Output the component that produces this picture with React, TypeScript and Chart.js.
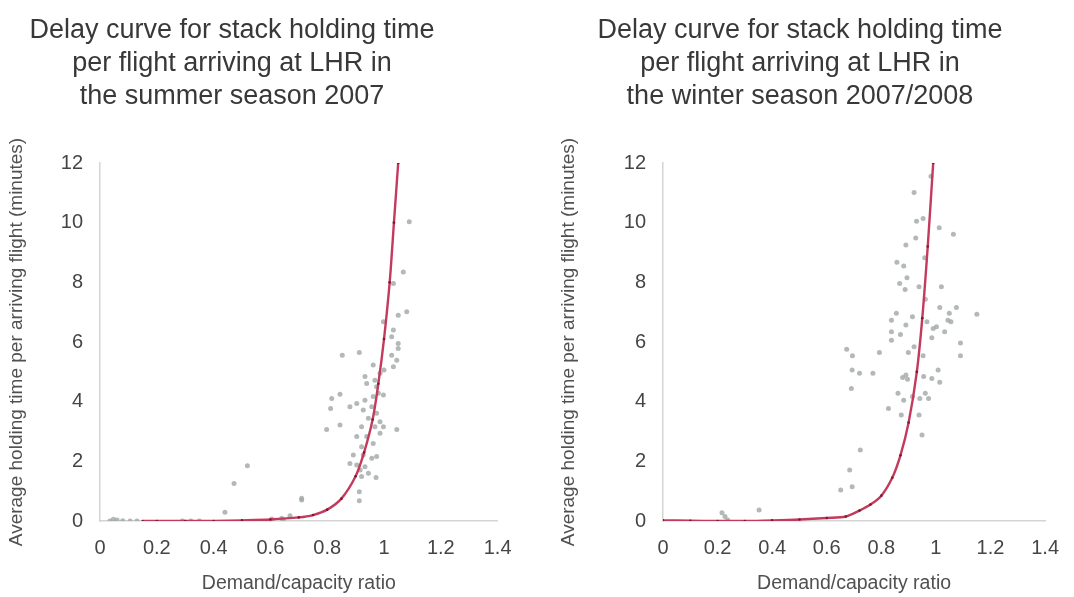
import React, { useEffect, useRef } from "react";
import { Chart, registerables } from "chart.js";

Chart.register(...registerables);

// ---------- data ----------
const summerTitle = [
  "Delay curve for stack holding time",
  "per flight arriving at LHR in",
  "the summer season 2007",
];
const winterTitle = [
  "Delay curve for stack holding time",
  "per flight arriving at LHR in",
  "the winter season 2007/2008",
];
const xAxisLabel = "Demand/capacity ratio";
const yAxisLabel = "Average holding time per arriving flight (minutes)";

const summerCurveX = [0.15, 0.2, 0.3, 0.4, 0.5, 0.6, 0.7, 0.75, 0.8, 0.85, 0.9, 0.93, 0.96, 0.98, 1.0, 1.02, 1.035, 1.05];
const summerCurveY = [0, 0, 0, 0, 0.02, 0.05, 0.12, 0.2, 0.38, 0.75, 1.5, 2.3, 3.4, 4.6, 6.1, 8.0, 10.0, 12.0];

const summerScatterX = [
  1.089, 1.068, 1.033, 1.08, 1.05, 0.998, 1.033, 1.027, 1.05, 1.05, 1.027, 1.045, 1.033, 0.962, 0.853, 0.913,
  0.986, 1.0, 0.933, 0.939, 0.968, 0.974, 0.98, 0.962, 0.998, 0.933, 0.904, 0.816, 0.845, 0.812, 0.88, 0.927,
  0.957, 0.974, 0.945, 0.986, 0.845, 0.798, 0.921, 0.968, 0.998, 1.045, 0.904, 0.939, 0.986, 0.962, 0.921, 0.892,
  0.927, 0.957, 0.974, 0.88, 0.904, 0.933, 0.916, 0.945, 0.921, 0.972, 0.913, 0.913, 0.519, 0.472, 0.71, 0.71,
  0.44, 0.605, 0.64, 0.669, 0.645, 0.047, 0.035, 0.06, 0.08, 0.106, 0.13, 0.29, 0.32, 0.35,
];
const summerScatterY = [
  10.03, 8.35, 7.96, 7.01, 6.9, 6.68, 6.4, 6.18, 5.95, 5.78, 5.56, 5.39, 5.17, 5.23, 5.56, 5.65,
  4.95, 5.06, 4.84, 4.61, 4.72, 4.5, 4.28, 4.17, 4.22, 4.05, 3.94, 4.11, 4.25, 3.77, 3.83, 3.72,
  3.83, 3.61, 3.44, 3.33, 3.22, 3.07, 3.16, 3.16, 3.16, 3.07, 2.83, 2.83, 2.94, 2.6, 2.49, 2.21,
  2.21, 2.1, 2.16, 1.93, 1.88, 1.82, 1.71, 1.6, 1.49, 1.46, 0.98, 0.68, 1.85, 1.26, 0.76, 0.7,
  0.29, 0.07, 0.09, 0.18, 0.03, 0.06, 0.0, 0.03, 0.01, 0.0, 0.0, 0.0, 0.0, 0.0,
];

const winterCurveX = [0, 0.1, 0.2, 0.3, 0.4, 0.5, 0.6, 0.67, 0.72, 0.76, 0.8, 0.84, 0.87, 0.9, 0.93, 0.95, 0.97, 0.99];
const winterCurveY = [0.02, 0.01, 0.0, 0.0, 0.02, 0.05, 0.1, 0.15, 0.35, 0.55, 0.85, 1.45, 2.2, 3.3, 5.0, 6.8, 9.2, 12.0];

const winterScatterX = [
  0.982, 0.92, 0.929, 0.953, 0.926, 1.012, 1.064, 0.89, 0.959, 0.857, 0.882, 0.894, 0.938, 0.867, 0.887, 1.02,
  0.961, 1.014, 1.075, 1.049, 1.15, 0.855, 0.914, 0.837, 0.89, 1.044, 1.055, 0.967, 0.99, 1.002, 0.837, 0.87,
  1.032, 0.985, 0.837, 1.09, 0.92, 0.673, 0.694, 0.793, 0.899, 0.953, 1.09, 0.693, 0.72, 0.769, 0.89, 0.878,
  0.896, 0.955, 0.985, 1.008, 1.014, 0.69, 0.861, 0.882, 0.914, 0.941, 0.961, 0.973, 0.826, 0.873, 0.938, 0.949,
  0.723, 0.684, 0.693, 0.651, 0.216, 0.227, 0.352, 0.237,
];
const winterScatterY = [
  11.56, 11.01, 10.05, 10.14, 9.49, 9.83, 9.61, 9.25, 8.82, 8.67, 8.55, 8.15, 7.85, 7.96, 7.76, 7.85,
  7.43, 7.16, 7.16, 6.96, 6.93, 6.96, 6.85, 6.73, 6.57, 6.73, 6.68, 6.68, 6.45, 6.51, 6.34, 6.25,
  6.34, 6.14, 6.06, 5.97, 5.84, 5.76, 5.54, 5.65, 5.65, 5.54, 5.54, 5.06, 4.95, 4.95, 4.89, 4.81,
  4.75, 4.84, 4.78, 5.06, 4.65, 4.44, 4.28, 4.05, 4.17, 4.11, 4.28, 4.11, 3.77, 3.55, 3.55, 2.88,
  2.38, 1.71, 1.15, 1.04, 0.28, 0.15, 0.37, 0.03,
];

const xTicksMin = 0;
const xTicksMax = 1.4;
const xTickStep = 0.2;
const yTicksMin = 0;
const yTicksMax = 12;
const yTickStep = 2;

// ---------- helpers ----------
const FONT = '"Liberation Sans", Arial, Helvetica, sans-serif';

const toPoints = (xs: number[], ys: number[]) => xs.map((x, i) => ({ x, y: ys[i] }));

const centeredTitle = {
  id: "centeredTitle",
  afterDraw(chart: any, _args: any, opts: any) {
    const ctx = chart.ctx;
    ctx.save();
    ctx.font = `${opts.size}px ${FONT}`;
    ctx.fillStyle = opts.color;
    ctx.textAlign = "center";
    ctx.textBaseline = "middle";
    (opts.lines as string[]).forEach((line, i) => {
      ctx.fillText(line, opts.x, opts.y0 + i * opts.lh);
    });
    ctx.restore();
  },
};

function makeConfig(
  titleLines: string[],
  curve: { x: number; y: number }[],
  scatter: { x: number; y: number }[],
  g: { yWidth: number; right: number; titleX: number; yTitlePad: number }
): any {
  return {
    type: "scatter",
    data: {
      datasets: [
        {
          label: "curve",
          data: curve,
          showLine: true,
          borderColor: "#c43a5c",
          borderWidth: 2.4,
          pointRadius: 1.3,
          pointBackgroundColor: "#7a1a2e",
          pointBorderWidth: 0,
          tension: 0.3,
          order: 1,
        },
        {
          label: "observed",
          data: scatter,
          showLine: false,
          pointRadius: 2.5,
          pointBackgroundColor: "rgba(160,166,166,0.8)",
          pointBorderWidth: 0,
          order: 2,
        },
      ],
    },
    options: {
      responsive: false,
      animation: false,
      devicePixelRatio: 1,
      layout: { padding: { top: 163, right: g.right, bottom: 0, left: 0 } },
      plugins: {
        legend: { display: false },
        tooltip: { enabled: false },
        title: { display: false },
        centeredTitle: {
          lines: titleLines,
          x: g.titleX,
          y0: 31,
          lh: 33,
          size: 27,
          color: "#383838",
        },
      },
      scales: {
        x: {
          type: "linear",
          min: xTicksMin,
          max: xTicksMax,
          afterFit: (s: any) => {
            s.height = 76;
          },
          grid: { display: false, drawTicks: false },
          border: { display: true, color: "#d4d4d4", width: 1.5 },
          ticks: {
            stepSize: xTickStep,
            padding: 15,
            color: "#454545",
            font: { family: FONT, size: 20 },
            callback: (v: number) => String(Math.round(v * 10) / 10),
          },
          title: {
            display: true,
            text: xAxisLabel,
            color: "#505050",
            font: { family: FONT, size: 19.5 },
            padding: { top: 0, bottom: 2 },
          },
        },
        y: {
          type: "linear",
          min: yTicksMin,
          max: yTicksMax,
          afterFit: (s: any) => {
            s.width = g.yWidth;
          },
          grid: { display: false, drawTicks: false },
          border: { display: true, color: "#d4d4d4", width: 1.5 },
          ticks: {
            stepSize: yTickStep,
            padding: 17,
            color: "#454545",
            font: { family: FONT, size: 20 },
          },
          title: {
            display: true,
            text: yAxisLabel,
            color: "#505050",
            font: { family: FONT, size: 19 },
            padding: { top: g.yTitlePad, bottom: 0 },
          },
        },
      },
    },
    plugins: [centeredTitle],
  };
}

function ChartCanvas({ config, left }: { config: any; left: number }) {
  const ref = useRef<HTMLCanvasElement | null>(null);
  useEffect(() => {
    if (!ref.current) return;
    const chart = new Chart(ref.current, config);
    return () => chart.destroy();
  }, [config]);
  return (
    <canvas
      ref={ref}
      width={537}
      height={597}
      style={{ position: "absolute", left, top: 0, width: 537, height: 597 }}
    />
  );
}

const summerConfig = makeConfig(
  summerTitle,
  toPoints(summerCurveX, summerCurveY),
  toPoints(summerScatterX, summerScatterY),
  { yWidth: 100, right: 39.4, titleX: 232, yTitlePad: 5 }
);
const winterConfig = makeConfig(
  winterTitle,
  toPoints(winterCurveX, winterCurveY),
  toPoints(winterScatterX, winterScatterY),
  { yWidth: 126, right: 14.8, titleX: 263, yTitlePad: 20 }
);

export default function App() {
  return (
    <div
      style={{
        position: "absolute",
        left: 0,
        top: 0,
        width: 1074,
        height: 597,
        background: "#ffffff",
        overflow: "hidden",
      }}
    >
      <ChartCanvas config={summerConfig} left={0} />
      <ChartCanvas config={winterConfig} left={537} />
    </div>
  );
}
